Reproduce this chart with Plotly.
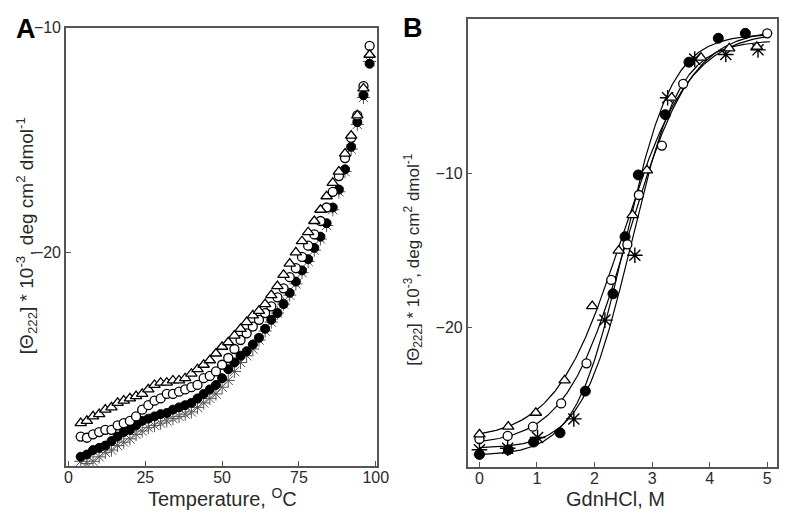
import numpy as np
import plotly.graph_objects as go

# ---------------- Panel A: thermal unfolding ----------------
temp_c = [4, 6, 8, 10, 12, 14, 16, 18, 20, 22, 24, 26, 28, 30, 32, 34, 36, 38, 40, 42,
          44, 46, 48, 50, 52, 54, 56, 58, 60, 62, 64, 66, 68, 70, 72, 74, 76, 78, 80, 82,
          84, 86, 88, 90, 92, 94, 96, 98]
a_triangle = [-27.6, -27.5, -27.3, -27.2, -27.0, -26.9, -26.7, -26.6, -26.5, -26.4,
              -26.3, -26.1, -25.9, -25.8, -25.8, -25.7, -25.7, -25.6, -25.4, -25.2,
              -25.0, -24.8, -24.5, -24.2, -24.0, -23.7, -23.4, -23.1, -22.8, -22.6,
              -22.3, -21.9, -21.5, -21.0, -20.5, -20.0, -19.5, -19.1, -18.6, -18.1,
              -17.5, -16.9, -16.4, -15.6, -14.8, -13.9, -12.7, -11.2]
a_open_circle = [-28.2, -28.25, -28.1, -28.0, -27.9, -27.9, -27.7, -27.6, -27.5, -27.3,
                 -27.0, -26.8, -26.6, -26.5, -26.3, -26.3, -26.2, -26.1, -26.0, -25.9,
                 -25.6, -25.5, -25.3, -25.0, -24.7, -24.3, -23.9, -23.6, -23.3, -23.0,
                 -22.7, -22.4, -22.0, -21.6, -21.1, -20.7, -20.2, -19.7, -19.2, -18.6,
                 -18.0, -17.3, -16.6, -15.8, -14.9, -13.9, -12.6, -10.8]
a_filled_circle = [-29.1, -29.0, -28.8, -28.7, -28.6, -28.4, -28.2, -28.0, -27.9, -27.7,
                   -27.5, -27.4, -27.3, -27.2, -27.15, -27.0, -26.9, -26.8, -26.7, -26.5,
                   -26.3, -26.1, -25.9, -25.6, -25.2, -24.9, -24.6, -24.4, -24.1, -23.8,
                   -23.4, -23.0, -22.7, -22.3, -21.8, -21.3, -20.8, -20.3, -19.8, -19.3,
                   -18.7, -18.0, -17.2, -16.3, -15.3, -14.2, -13.0, -11.6]
a_asterisk = [-29.3, -29.4, -29.3, -29.1, -28.9, -28.8, -28.6, -28.45, -28.3, -28.1,
              -27.95, -27.8, -27.7, -27.6, -27.5, -27.4, -27.3, -27.2, -27.1, -26.9,
              -26.7, -26.5, -26.3, -26.0, -25.7, -25.3, -24.9, -24.6, -24.3, -23.9,
              -23.5, -23.1, -22.7, -22.3, -21.9, -21.4, -20.9, -20.4, -19.9, -19.4,
              -18.8, -18.1, -17.3, -16.4, -15.4, -14.3, -13.1, -11.5]

# ---------------- Panel B: GdnHCl denaturation ----------------
b_tri_x = [0.0, 0.5, 0.98, 1.48, 1.96, 2.42, 2.66, 2.91, 3.34, 3.85, 4.34, 4.82]
b_tri_y = [-26.9, -26.4, -25.5, -23.4, -18.6, -15.0, -12.7, -9.8, -5.1, -2.5, -1.9, -1.8]
b_oc_x = [0.0, 0.49, 0.93, 1.42, 1.86, 2.29, 2.57, 2.77, 3.17, 3.54, 5.0]
b_oc_y = [-27.2, -27.0, -26.4, -24.9, -22.3, -16.9, -14.6, -11.4, -8.2, -4.2, -0.93]
b_fc_x = [0.0, 0.5, 0.94, 1.4, 1.84, 2.32, 2.53, 2.76, 3.23, 3.64, 4.15, 4.62]
b_fc_y = [-28.2, -27.9, -27.4, -26.8, -24.1, -17.8, -14.1, -10.1, -6.2, -2.8, -1.25, -0.93]
b_ast_x = [0.0, 0.49, 1.01, 1.64, 2.18, 2.7, 3.27, 3.74, 4.28, 4.84]
b_ast_y = [-27.9, -27.8, -27.1, -25.9, -19.5, -15.3, -5.1, -2.6, -2.3, -2.0]

a_xticks = [0, 25, 50, 75, 100]
a_yticks = [-10, -20]
b_xticks = [0, 1, 2, 3, 4, 5]
b_yticks = [-10, -20]


def fit_two_state(x, y):
    """Least-squares sigmoid fit: y = yN*(1-f) + yU*f, f = 1/(1+exp((xm-x)/s))."""
    x = np.asarray(x, float)
    y = np.asarray(y, float)
    best = None
    for xm in np.arange(1.8, 3.4, 0.005):
        for s in np.arange(0.15, 0.9, 0.005):
            f = 1.0 / (1.0 + np.exp((xm - x) / s))
            A = np.column_stack([1 - f, f])
            coef, *_ = np.linalg.lstsq(A, y, rcond=None)
            r = np.sum((A @ coef - y) ** 2)
            if best is None or r < best[0]:
                best = (r, xm, s, coef)
    _, xm, s, coef = best
    xx = np.linspace(0, 5.05, 300)
    ff = 1.0 / (1.0 + np.exp((xm - xx) / s))
    return xx, coef[0] * (1 - ff) + coef[1] * ff


FONT = "Liberation Sans, Arial, sans-serif"
INK = "#2a2a2a"
W, H = 781, 508  # page body has an 8px margin; positions below are in figure pixels

fig = go.Figure()

# Panel A markers
fig.add_trace(go.Scatter(x=temp_c, y=a_asterisk, mode="markers", xaxis="x", yaxis="y",
                         marker=dict(symbol="asterisk-open", size=11, color="#555",
                                     line=dict(color="#555", width=1))))
fig.add_trace(go.Scatter(x=temp_c, y=a_filled_circle, mode="markers", xaxis="x", yaxis="y",
                         marker=dict(symbol="circle", size=9, color="black",
                                     line=dict(color="black", width=1))))
fig.add_trace(go.Scatter(x=temp_c, y=a_open_circle, mode="markers", xaxis="x", yaxis="y",
                         marker=dict(symbol="circle", size=9, color="white",
                                     line=dict(color="black", width=1.3))))
fig.add_trace(go.Scatter(x=temp_c, y=a_triangle, mode="markers", xaxis="x", yaxis="y",
                         marker=dict(symbol="triangle-up", size=10, color="white",
                                     line=dict(color="black", width=1.3))))

# Panel B fits
for bx, by in [(b_tri_x, b_tri_y), (b_oc_x, b_oc_y), (b_fc_x, b_fc_y), (b_ast_x, b_ast_y)]:
    fx, fy = fit_two_state(bx, by)
    fig.add_trace(go.Scatter(x=fx, y=fy, mode="lines", xaxis="x2", yaxis="y2",
                             line=dict(color="black", width=1.2)))

# Panel B markers
fig.add_trace(go.Scatter(x=b_ast_x, y=b_ast_y, mode="markers", xaxis="x2", yaxis="y2",
                         marker=dict(symbol="asterisk-open", size=13, color="black",
                                     line=dict(color="black", width=1.4))))
fig.add_trace(go.Scatter(x=b_fc_x, y=b_fc_y, mode="markers", xaxis="x2", yaxis="y2",
                         marker=dict(symbol="circle", size=10, color="black",
                                     line=dict(color="black", width=1))))
fig.add_trace(go.Scatter(x=b_oc_x, y=b_oc_y, mode="markers", xaxis="x2", yaxis="y2",
                         marker=dict(symbol="circle", size=9, color="white",
                                     line=dict(color="black", width=1.3))))
fig.add_trace(go.Scatter(x=b_tri_x, y=b_tri_y, mode="markers", xaxis="x2", yaxis="y2",
                         marker=dict(symbol="triangle-up", size=10, color="white",
                                     line=dict(color="black", width=1.3))))

axis_common = dict(showline=True, linecolor="#555", linewidth=1.5, mirror=True,
                   ticks="inside", ticklen=5, tickcolor="#555", tickwidth=1.2,
                   showgrid=False, zeroline=False,
                   tickfont=dict(family=FONT, size=16, color=INK))

fig.update_layout(
    width=W, height=H,
    margin=dict(l=0, r=0, t=0, b=0),
    paper_bgcolor="white", plot_bgcolor="white",
    showlegend=False,
    xaxis=dict(domain=[57 / W, 374 / W], range=[-0.8, 100.5], tickvals=a_xticks,
               anchor="y", ticklabelstandoff=-4, **axis_common),
    yaxis=dict(domain=[1 - 457 / H, 1 - 12 / H], range=[-29.5, -10], tickvals=a_yticks,
               anchor="x", **axis_common),
    xaxis2=dict(domain=[466 / W, 1.0], range=[-0.205, 5.17], tickvals=b_xticks,
                anchor="y2", ticklabelstandoff=-4, **axis_common),
    yaxis2=dict(domain=[1 - 458 / H, 1 - 3 / H], range=[-29, 0], tickvals=b_yticks,
                anchor="x2", **axis_common),
)

ytitle = "[Θ<sub>222</sub>] * 10<sup>-3</sup>, deg cm<sup>2</sup> dmol<sup>-1</sup>"
ann = [
    dict(text="<b>A</b>", x=4, y=13, size=27, xanchor="left", angle=0),
    dict(text="<b>B</b>", x=398, y=12, size=27, xanchor="left", angle=0),
    dict(text="Temperature, <sup>O</sup>C", x=216, y=489, size=20, xanchor="center", angle=0),
    dict(text="GdnHCl, M", x=617, y=491, size=20, xanchor="center", angle=0),
    dict(text=ytitle, x=17, y=223, size=19, xanchor="center", angle=-90),
    dict(text=ytitle, x=410, y=248, size=17, xanchor="center", angle=-90),
]
for a in ann:
    fig.add_annotation(xref="paper", yref="paper", showarrow=False,
                       x=a["x"] / W, y=1 - a["y"] / H, text=a["text"],
                       xanchor=a["xanchor"], yanchor="middle", textangle=a["angle"],
                       font=dict(family=FONT, size=a["size"],
                                 color="black" if a["xanchor"] == "left" else INK))

fig.write_html("out.html")
